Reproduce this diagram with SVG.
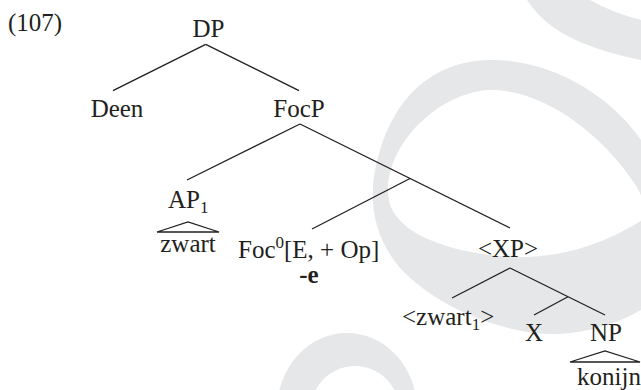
<svg xmlns="http://www.w3.org/2000/svg" width="641" height="390" viewBox="0 0 641 390">
<style>
.t{font-family:"Liberation Serif","Times New Roman",serif;font-size:25px;fill:#231f20}
.m{text-anchor:middle}
.b{font-weight:bold}
.wm{fill:#e6e7e9;fill-rule:evenodd}
#connectors line,#connectors polyline{stroke:#231f20;stroke-width:1.3;fill:none}
</style>
<rect width="641" height="390" fill="#ffffff"/>
<g id="watermark">
<path class="wm" d="M527,0 Q548,32 593,47 Q615,55 641,60 L641,20 Q613,13 590,0 Z"/>
<path class="wm" d="M641,140 C610,95 550,58 487,60 C430,62 395,100 380,150 C366,195 372,235 400,268 C430,300 480,325 533,333 C575,338 615,325 641,310 Z M388,190 C388,145 435,95 487,90 C540,88 600,130 637,187 L650,215 C620,235 580,255 527,257 C480,258 430,245 407,227 C393,215 388,205 388,190 Z"/>
<path class="wm" d="M277,410 a70,77 0 1,0 140,0 a70,77 0 1,0 -140,0 Z M310,412 a45,46 0 1,0 90,0 a45,46 0 1,0 -90,0 Z"/>
</g>
<text class="t" x="8" y="31">(107)</text>
<g id="connectors">
<line x1="205.7" y1="44.3" x2="113" y2="90.7"/>
<line x1="205.7" y1="44.3" x2="299" y2="90.7"/>
<line x1="300" y1="124" x2="187" y2="180"/>
<line x1="300" y1="124" x2="510" y2="228"/>
<line x1="410" y1="178.5" x2="312" y2="229"/>
<line x1="510" y1="268" x2="452" y2="298"/>
<line x1="510" y1="268" x2="605" y2="315"/>
<line x1="568" y1="296.7" x2="534" y2="315"/>
<polyline points="157,232 188,222 219,232 157,232"/>
<polyline points="570,362 605,351 640,362 570,362"/>
</g>
<g id="DP"><text class="t m" x="208.5" y="37">DP</text></g>
<g id="Deen"><text class="t m" x="117" y="117">Deen</text></g>
<g id="FocP"><text class="t m" x="299" y="117">FocP</text></g>
<g id="AP1"><text class="t" x="168" y="208">AP<tspan font-size="17" dy="5">1</tspan></text></g>
<g id="zwart"><text class="t m" x="188" y="252">zwart</text></g>
<g id="Foc0"><text class="t" x="238" y="258">Foc<tspan font-size="17" dy="-10">0</tspan><tspan dy="10">[E, + Op]</tspan></text>
<text class="t m b" x="309" y="283">-e</text></g>
<g id="XP"><text class="t m" x="508" y="257">&lt;XP&gt;</text></g>
<g id="zwart1"><text class="t" x="402" y="325">&lt;zwart<tspan font-size="17" dy="5">1</tspan><tspan dy="-5">&gt;</tspan></text></g>
<g id="X"><text class="t m" x="534" y="341">X</text></g>
<g id="NP"><text class="t m" x="606" y="341">NP</text></g>
<g id="konijn"><text class="t m" x="609" y="385">konijn</text></g>
</svg>
